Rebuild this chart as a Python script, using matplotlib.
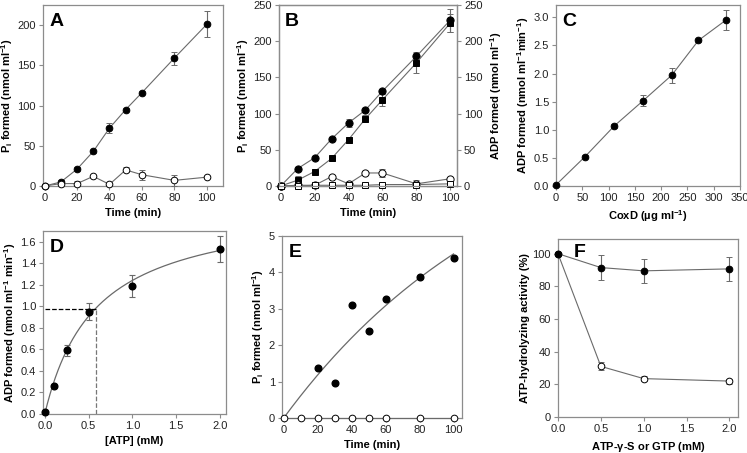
import numpy as np
import matplotlib
matplotlib.use("Agg")
import matplotlib.pyplot as plt

plt.rcParams["font.family"] = ["Liberation Sans", "DejaVu Sans"]
plt.rcParams["mathtext.fontset"] = "custom"
plt.rcParams["mathtext.rm"] = "Liberation Sans"
plt.rcParams["mathtext.bf"] = "Liberation Sans:bold"

_SPINE = "#8c8c8c"
_LINE = "#6a6a6a"
_TXT = "#222222"

# ---- panel A ----
a_t = [0, 10, 20, 30, 40, 50, 60, 80, 100]
a_filled = [0, 5, 21, 43, 72, 95, 116, 159, 201]
a_filled_err = [0, 3, 2, 2, 6, 2, 2, 8, 16]
a_open = [0, 3, 3, 12, 2, 20, 14, 7, 11]
a_open_err = [0, 2, 3, 1, 1, 3, 6, 7, 1]

# ---- panel B ----
b_t = [0, 10, 20, 30, 40, 50, 60, 80, 100]
b_pi_filled = [0, 24, 39, 65, 87, 105, 131, 179, 229]
b_pi_filled_err = [0, 2, 2, 2, 5, 2, 2, 6, 16]
b_adp_filled = [0, 8, 20, 38, 64, 93, 119, 170, 225]
b_adp_filled_err = [0, 6, 4, 3, 4, 5, 8, 14, 12]
b_pi_open = [0, 1, 1, 13, 3, 18, 18, 3, 10]
b_pi_open_err = [0, 1, 1, 1, 1, 1, 6, 5, 1]
b_adp_open = [0, 0, 1, 1, 1, 1, 2, 2, 3]

# ---- panel C ----
c_coxd = [0, 55, 111, 166, 220, 271, 323]
c_adp = [0.02, 0.52, 1.07, 1.52, 1.97, 2.59, 2.95]
c_err = [0, 0.03, 0.03, 0.10, 0.13, 0.03, 0.18]

# ---- panel D ----
d_atp = [0, 0.1, 0.25, 0.5, 1.0, 2.0]
d_adp = [0.02, 0.26, 0.59, 0.95, 1.19, 1.53]
d_err = [0, 0.02, 0.05, 0.08, 0.10, 0.12]
d_vmax, d_km = 1.96, 0.58

# ---- panel E ----
e_t_filled = [20, 30, 40, 50, 60, 80, 100]
e_filled = [1.37, 0.97, 3.11, 2.40, 3.27, 3.87, 4.40]
e_t_open = [0, 10, 20, 30, 40, 50, 60, 80, 100]
e_open = [0, 0, 0, 0, 0, 0, 0, 0, 0]
e_fit_a, e_fit_k = 8.7, 0.0073

# ---- panel F ----
f_conc = [0, 0.5, 1.0, 2.0]
f_filled = [100, 91.5, 89.5, 90.7]
f_filled_err = [0, 7.5, 7.5, 7.5]
f_open = [100, 31, 23.5, 22]
f_open_err = [0, 2.5, 1.5, 1.5]


def style(ax):
    for s in ax.spines.values():
        s.set_color(_SPINE)
        s.set_linewidth(0.9)
    ax.tick_params(direction="out", length=3, width=0.8, color=_SPINE,
                   labelsize=8, labelcolor=_TXT, pad=2)


def series(ax, x, y, err=None, filled=True, marker="o", ms=4.8):
    ax.errorbar(x, y, yerr=err, color=_LINE, lw=0.8, ecolor=_LINE, elinewidth=0.8,
                capsize=2.3, capthick=0.8, marker=marker, ms=ms,
                mfc="black" if filled else "white", mec="black", mew=0.7, zorder=3)


def letter(ax, s, x=0.035, y=0.955):
    ax.text(x, y, s, transform=ax.transAxes, fontsize=14, fontweight="bold",
            ha="left", va="top", color="black")


fig = plt.figure(figsize=(7.47, 4.53), dpi=100)
W, H = 747, 453


def add(l, r, t, b):
    return fig.add_axes([l / W, (H - b) / H, (r - l) / W, (b - t) / H])


axA = add(43, 223, 5, 186)
axB = add(279, 457, 5, 186)
axC = add(556, 740, 5, 186)
axD = add(43, 226, 231, 414)
axE = add(282, 462, 236, 418)
axF = add(558, 738, 239, 417)

# A
series(axA, a_t, a_filled, a_filled_err, True)
series(axA, a_t, a_open, a_open_err, False)
axA.set_xlim(-1, 110)
axA.set_ylim(0, 225)
axA.set_xticks([0, 20, 40, 60, 80, 100])
axA.set_yticks([0, 50, 100, 150, 200])
axA.set_xlabel("Time (min)", fontsize=8, fontweight="bold")
axA.set_ylabel(r"$\mathbf{P_i}$ formed (nmol ml$^{\mathbf{-1}}$)", fontsize=8, fontweight="bold")
letter(axA, "A")

# B
series(axB, b_t, b_pi_filled, b_pi_filled_err, True, ms=5.2)
series(axB, b_t, b_adp_filled, b_adp_filled_err, True, marker="s", ms=4.2)
series(axB, b_t, b_pi_open, b_pi_open_err, False, ms=5.2)
series(axB, b_t, b_adp_open, None, False, marker="s", ms=4.2)
axB.set_xlim(-1, 104)
axB.set_ylim(0, 250)
axB.set_xticks([0, 20, 40, 60, 80, 100])
axB.set_yticks([0, 50, 100, 150, 200, 250])
axB.set_xlabel("Time (min)", fontsize=8, fontweight="bold")
axB.set_ylabel(r"$\mathbf{P_i}$ formed (nmol ml$^{\mathbf{-1}}$)", fontsize=8, fontweight="bold")
axB2 = axB.twinx()
axB2.set_ylim(0, 250)
axB2.set_yticks([0, 50, 100, 150, 200, 250])
axB2.set_ylabel(r"ADP formed (nmol ml$^{\mathbf{-1}}$)", fontsize=8, fontweight="bold")
style(axB2)
letter(axB, "B")

# C
series(axC, c_coxd, c_adp, c_err, True)
axC.set_xlim(0, 350)
axC.set_ylim(0, 3.22)
axC.set_xticks([0, 50, 100, 150, 200, 250, 300, 350])
axC.set_yticks([0, 0.5, 1.0, 1.5, 2.0, 2.5, 3.0])
axC.set_yticklabels([f"{v:.1f}" for v in [0, 0.5, 1.0, 1.5, 2.0, 2.5, 3.0]])
axC.set_xlabel(r"CoxD (µg ml$^{\mathbf{-1}}$)", fontsize=8, fontweight="bold")
axC.set_ylabel(r"ADP formed (nmol ml$^{\mathbf{-1}}$min$^{\mathbf{-1}}$)", fontsize=8, fontweight="bold")
letter(axC, "C")

# D
xs = np.linspace(0, 2.0, 200)
axD.plot(xs, d_vmax * xs / (d_km + xs), color=_LINE, lw=0.9, zorder=2)
half = d_vmax / 2
axD.plot([0, d_km], [half, half], ls="--", color="black", lw=0.9, zorder=2)
axD.plot([d_km, d_km], [0, half], ls="--", color="#777777", lw=0.9, zorder=2)
axD.errorbar(d_atp, d_adp, yerr=d_err, fmt="o", ms=4.8, mfc="black", mec="black",
             ecolor=_LINE, elinewidth=0.8, capsize=2.3, capthick=0.8, zorder=3)
axD.set_xlim(-0.02, 2.07)
axD.set_ylim(0, 1.7)
axD.set_xticks([0, 0.5, 1.0, 1.5, 2.0])
axD.set_xticklabels([f"{v:.1f}" for v in [0, 0.5, 1.0, 1.5, 2.0]])
axD.set_yticks([0, 0.2, 0.4, 0.6, 0.8, 1.0, 1.2, 1.4, 1.6])
axD.set_yticklabels([f"{v:.1f}" for v in [0, 0.2, 0.4, 0.6, 0.8, 1.0, 1.2, 1.4, 1.6]])
axD.set_xlabel("[ATP] (mM)", fontsize=8, fontweight="bold")
axD.set_ylabel(r"ADP formed (nmol ml$^{\mathbf{-1}}$ min$^{\mathbf{-1}}$)", fontsize=8, fontweight="bold")
letter(axD, "D")

# E
ts = np.linspace(0, 100, 200)
axE.plot(ts, e_fit_a * (1 - np.exp(-e_fit_k * ts)), color=_LINE, lw=0.9, zorder=2)
axE.plot(e_t_filled, e_filled, "o", ms=4.8, mfc="black", mec="black", zorder=3)
series(axE, e_t_open, e_open, None, False)
axE.set_xlim(-1, 105)
axE.set_ylim(0, 5)
axE.set_xticks([0, 20, 40, 60, 80, 100])
axE.set_yticks([0, 1, 2, 3, 4, 5])
axE.set_xlabel("Time (min)", fontsize=8, fontweight="bold")
axE.set_ylabel(r"$\mathbf{P_i}$ formed (nmol ml$^{\mathbf{-1}}$)", fontsize=8, fontweight="bold")
letter(axE, "E")

# F
series(axF, f_conc, f_open, f_open_err, False)
series(axF, f_conc, f_filled, f_filled_err, True)
axF.set_xlim(0, 2.1)
axF.set_ylim(0, 109)
axF.set_xticks([0, 0.5, 1.0, 1.5, 2.0])
axF.set_xticklabels([f"{v:.1f}" for v in [0, 0.5, 1.0, 1.5, 2.0]])
axF.set_yticks([0, 20, 40, 60, 80, 100])
axF.set_xlabel(r"ATP-$\mathbf{\gamma}$-S or GTP (mM)", fontsize=8, fontweight="bold")
axF.set_ylabel("ATP-hydrolyzing activity (%)", fontsize=8, fontweight="bold")
letter(axF, "F", x=0.085, y=0.97)

for ax in (axA, axB, axC, axD, axE, axF):
    style(ax)
    for art in ax.lines + ax.collections:
        art.set_clip_on(False)
    ax.xaxis.labelpad = 4
    ax.yaxis.labelpad = 2

fig.savefig("out.png", dpi=100, facecolor="white")
